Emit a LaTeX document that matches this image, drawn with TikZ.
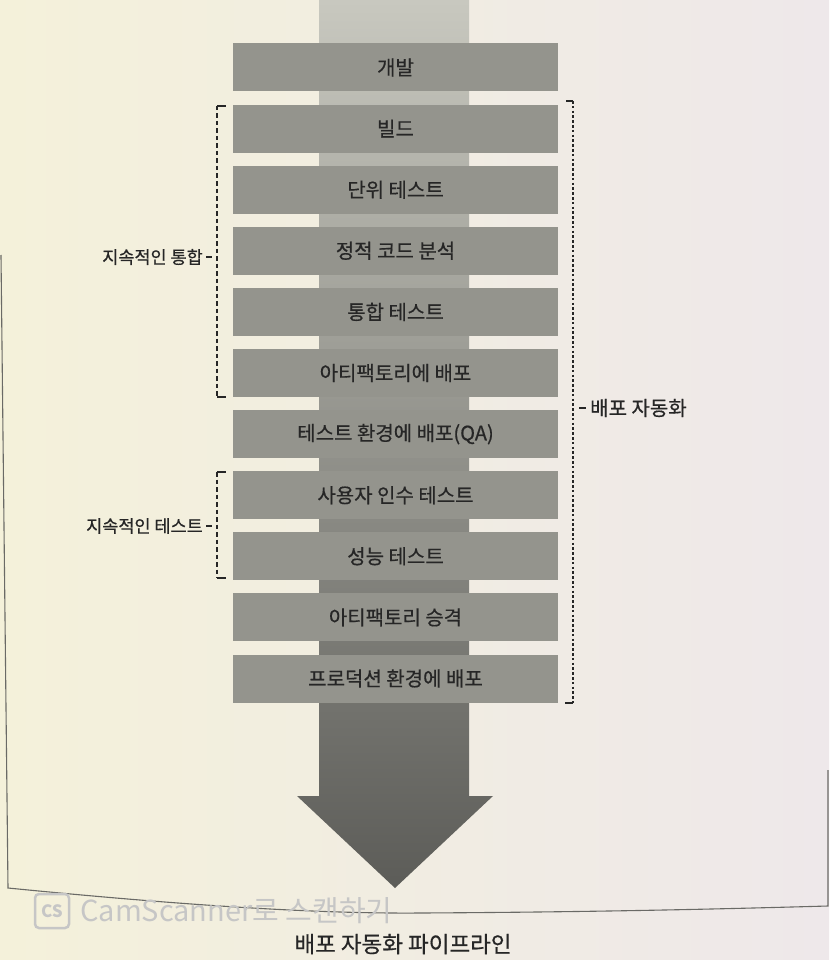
\documentclass[tikz,border=0pt]{standalone}
\usepackage{fontspec}
\setmainfont{Noto Sans CJK KR}
\newfontfamily\medfont{Noto Sans CJK KR}[FakeBold=0.6]
\usetikzlibrary{calc}
\definecolor{paperL}{HTML}{F4F1DA}
\definecolor{paperR}{HTML}{EEE8EA}
\definecolor{boxgray}{HTML}{94948D}
\definecolor{shaftTop}{HTML}{C8C8BF}
\definecolor{shaftBot}{HTML}{5C5C58}
\definecolor{inkdark}{HTML}{262626}
\definecolor{framecol}{HTML}{6A6A66}
\definecolor{wmgray}{HTML}{C6C6C6}
\begin{document}
\begin{tikzpicture}[x=1pt,y=-1pt,
  stagebox/.style={fill=boxgray, minimum width=325pt, minimum height=48pt, inner sep=0pt,
    text=inkdark, font=\medfont\fontsize{20}{22}\selectfont},
  sidelabel/.style={inner sep=0pt, text=inkdark, font=\medfont\fontsize{17.5}{20}\selectfont},
  cibracket/.style={draw=inkdark, line width=1.3pt, dash pattern=on 4.5pt off 3pt},
  cdbracket/.style={draw=inkdark, line width=2.4pt, dash pattern=on 2.6pt off 2.2pt},
  tick/.style={draw=inkdark, line width=1.4pt},
  frameline/.style={draw=framecol, line width=1.1pt}]
% paper
\useasboundingbox (0,0) rectangle (829,960);
\shade[left color=paperL, right color=paperR] (0,0) rectangle (829,960);
% page frame
\draw[frameline] (1,255) -- (8,888) .. controls (150,902) and (300,914) .. (420,913)
  .. controls (600,912) and (720,909) .. (828,906) -- (828,770);
% shaft and arrow head
\shade[top color=shaftTop, bottom color=shaftBot]
  (319,0) -- (469,0) -- (469,796) -- (493,796) -- (395,888) -- (297,796) -- (319,796) -- cycle;
% stages
\foreach \i/\t in {0/개발, 1/빌드, 2/단위 테스트, 3/정적 코드 분석, 4/통합 테스트,
  5/아티팩토리에 배포, 6/테스트 환경에 배포(QA), 7/사용자 인수 테스트, 8/성능 테스트,
  9/아티팩토리 승격, 10/프로덕션 환경에 배포}
  \node[stagebox] (b\i) at (395.5, {67.5+61.1*\i}) {\t};
% continuous integration bracket
\coordinate (ciT) at (217,106);
\coordinate (ciB) at (217,397);
\draw[cibracket] (ciT) -- (ciB);
\draw[tick] (ciT) -- ++(9,0);
\draw[tick] (ciB) -- ++(9,0);
\node[sidelabel, anchor=east] (ciL) at (203,257) {지속적인 통합};
\draw[tick] ($(ciL.east)+(3,0)$) -- ($(ciL.east)+(9,0)$);
% continuous testing bracket
\coordinate (ctT) at (217,472);
\coordinate (ctB) at (217,578);
\draw[cibracket] (ctT) -- (ctB);
\draw[tick] (ctT) -- ++(9,0);
\draw[tick] (ctB) -- ++(9,0);
\node[sidelabel, anchor=east] (ctL) at (203,526) {지속적인 테스트};
\draw[tick] ($(ctL.east)+(3,0)$) -- ($(ctL.east)+(9,0)$);
% deployment automation bracket
\coordinate (cdT) at (573,101);
\coordinate (cdB) at (573,703);
\draw[cdbracket] (cdT) -- (cdB);
\draw[tick] (cdT) -- ++(-7,0);
\draw[tick] (cdB) -- ++(-8,0);
\node[sidelabel, anchor=west, font=\medfont\fontsize{20}{22}\selectfont] (cdL) at (590,408) {배포 자동화};
\draw[tick] ($(cdL.west)+(-11,0)$) -- ($(cdL.west)+(-4,0)$);
% watermark
\node[draw=wmgray, line width=2.5pt, rounded corners=4pt, minimum width=34pt, minimum height=34pt,
  inner sep=0pt, text=wmgray, font=\fontsize{17}{17}\selectfont\bfseries] (wmlogo) at (52,911) {CS};
\node[anchor=west, inner sep=0pt, text=wmgray, font=\fontsize{29}{32}\selectfont] (wmtext)
  at (80,911) {CamScanner로 스캔하기};
% caption
\node[inner sep=0pt, text=inkdark, font=\medfont\fontsize{22.5}{25}\selectfont] (caption) at (403,944) {배포 자동화 파이프라인};
\end{tikzpicture}
\end{document}
